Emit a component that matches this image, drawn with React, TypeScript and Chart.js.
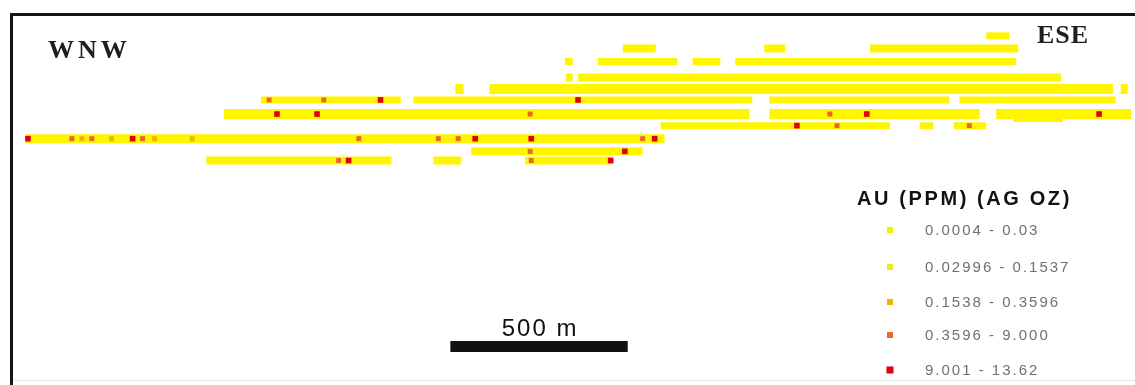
import React, { useEffect, useRef } from "react";
import { Chart, registerables } from "chart.js";

Chart.register(...registerables);

// ---- Section geometry (metres along section, elevation in metres) ----
const xRange = [0, 3155];
const yRange = [3158, 4200];

// Drill-hole traces: one elevation per trace row, with segment starts / ends (m along section)
const traceElev = [4138, 4102, 4065, 4020, 3987, 3956, 3916, 3902, 3883, 3846, 3810, 3784];
const traceStarts = [
  [2747],
  [1722, 2121, 2419],
  [1559, 1652, 1919, 2039],
  [1562, 1596],
  [1250, 1346, 3126],
  [702, 1132, 2135, 2671],
  [598, 2135, 2775],
  [2823],
  [1829, 2559, 2655],
  [37],
  [1295],
  [548, 1188, 1447],
];
const traceEnds = [
  [2812],
  [1815, 2180, 2837],
  [1581, 1876, 1997, 2831],
  [1581, 2958],
  [1273, 3104, 3146],
  [1096, 2087, 2643, 3112],
  [2079, 2728, 3155],
  [2963],
  [2475, 2598, 2747],
  [1840],
  [1778],
  [1070, 1267, 1693],
];
const traceWidth = [7, 8, 7, 8, 10, 7, 10, 6, 7, 9, 8, 8];

// Higher-grade assay samples along the traces
const sampleX = [
  725, 879, 1039, 1596,
  747, 860, 1461, 2306, 2410, 3065,
  2213, 2326, 2699,
  45, 169, 197, 225, 281, 340, 368, 402, 508, 978, 1202, 1258, 1306, 1464, 1778, 1812,
  1461, 1728,
  921, 949, 1464, 1688,
];
const sampleElev = [
  3956, 3956, 3956, 3956,
  3916, 3916, 3916, 3916, 3916, 3916,
  3883, 3883, 3883,
  3846, 3846, 3846, 3846, 3846, 3846, 3846, 3846, 3846, 3846, 3846, 3846, 3846, 3846, 3846, 3846,
  3810, 3810,
  3784, 3784, 3784, 3784,
];
const sampleClass = [
  4, 4, 5, 5,
  5, 5, 4, 4, 5, 5,
  5, 4, 4,
  5, 4, 3, 4, 3, 5, 4, 3, 3, 4, 4, 4, 5, 5, 4, 5,
  4, 5,
  4, 5, 4, 5,
];

// Legend classes
const classLabels = [
  "0.0004 - 0.03",
  "0.02996 - 0.1537",
  "0.1538 - 0.3596",
  "0.3596 - 9.000",
  "9.001 - 13.62",
];
const classColors = ["#f4ee00", "#eeea10", "#f0b400", "#e8682a", "#e00010"];
const legendTitle = "AU (PPM) (AG OZ)";

// Scale bar
const scaleBarStart = 1236;
const scaleBarLength = 500;
const scaleBarLabel = "500 m";

const TRACE_COLOR = "#fff500";

const overlayPlugin = {
  id: "overlay",
  afterDraw(chart: any) {
    const { ctx, chartArea, scales } = chart;
    const W = chart.width;
    const H = chart.height;
    ctx.save();

    // faint bottom line
    ctx.strokeStyle = "#e6e6e6";
    ctx.lineWidth = 1;
    ctx.beginPath();
    ctx.moveTo(chartArea.left, H - 4.5);
    ctx.lineTo(W, H - 4.5);
    ctx.stroke();

    // frame (top + left)
    ctx.strokeStyle = "#141414";
    ctx.lineWidth = 3;
    ctx.beginPath();
    ctx.moveTo(chartArea.left - 0.5, H);
    ctx.lineTo(chartArea.left - 0.5, chartArea.top + 0.5);
    ctx.lineTo(W, chartArea.top + 0.5);
    ctx.stroke();

    // direction labels
    ctx.fillStyle = "#1e1e1e";
    ctx.textBaseline = "alphabetic";
    ctx.textAlign = "left";
    ctx.font = 'bold 26px "Liberation Serif", serif';
    (ctx as any).letterSpacing = "4px";
    ctx.fillText("WNW", 48, 58);
    (ctx as any).letterSpacing = "1px";
    ctx.fillText("ESE", 1037, 43);

    // legend title
    ctx.fillStyle = "#111";
    ctx.font = 'bold 20px "Liberation Sans", Arial, sans-serif';
    (ctx as any).letterSpacing = "2.6px";
    ctx.fillText(legendTitle, 857, 205);

    // legend items
    const rowsY = [230, 267, 302, 335, 370];
    ctx.font = '15px "Liberation Sans", Arial, sans-serif';
    (ctx as any).letterSpacing = "2px";
    classLabels.forEach((lab, i) => {
      const y = rowsY[i];
      const s = i === 4 ? 7 : 6;
      ctx.fillStyle = classColors[i];
      ctx.fillRect(890 - s / 2, y - s / 2, s, s);
      ctx.fillStyle = "#707070";
      ctx.fillText(lab, 925, y + 5);
    });

    // scale bar
    const x0 = scales.x.getPixelForValue(scaleBarStart);
    const x1 = scales.x.getPixelForValue(scaleBarStart + scaleBarLength);
    ctx.fillStyle = "#111";
    ctx.fillRect(x0, 341, x1 - x0, 11);
    ctx.font = '24px "Liberation Sans", Arial, sans-serif';
    (ctx as any).letterSpacing = "2px";
    ctx.textAlign = "center";
    ctx.fillText(scaleBarLabel, (x0 + x1) / 2 + 1, 336);

    ctx.restore();
  },
};

export default function App() {
  const ref = useRef<HTMLCanvasElement | null>(null);

  useEffect(() => {
    document.body.style.margin = "0";
    document.body.style.background = "#ffffff";
    if (!ref.current) return;

    const traceSets = traceElev.map((elev, i) => {
      const pts: any[] = [];
      traceStarts[i].forEach((s, j) => {
        pts.push({ x: s, y: elev });
        pts.push({ x: traceEnds[i][j], y: elev });
        pts.push({ x: traceEnds[i][j], y: null });
      });
      return {
        type: "scatter" as const,
        label: "trace " + (i + 1),
        data: pts,
        showLine: true,
        spanGaps: false,
        borderColor: TRACE_COLOR,
        backgroundColor: TRACE_COLOR,
        borderWidth: traceWidth[i],
        borderCapStyle: "butt",
        pointRadius: 0,
        order: 2,
      };
    });

    const sampleSets = [3, 4, 5].map((c) => {
      const pts: any[] = [];
      sampleX.forEach((x, k) => {
        if (sampleClass[k] === c) pts.push({ x, y: sampleElev[k] });
      });
      return {
        type: "scatter" as const,
        label: classLabels[c - 1],
        data: pts,
        showLine: false,
        pointStyle: "rect",
        pointRadius: c === 5 ? 4 : 3.5,
        pointBackgroundColor: classColors[c - 1],
        pointBorderWidth: 0,
        borderColor: classColors[c - 1],
        order: 0,
      };
    });

    const chart = new Chart(ref.current, {
      type: "scatter",
      data: { datasets: [...sampleSets, ...traceSets] as any },
      options: {
        responsive: false,
        animation: false,
        events: [],
        layout: { padding: { left: 12, top: 14, right: 0, bottom: 0 } },
        plugins: { legend: { display: false }, tooltip: { enabled: false } },
        scales: {
          x: { type: "linear", min: xRange[0], max: xRange[1], display: false },
          y: { type: "linear", min: yRange[0], max: yRange[1], display: false },
        },
      },
      plugins: [overlayPlugin],
    });
    return () => chart.destroy();
  }, []);

  return (
    <div style={{ width: 1135, height: 385, background: "#fff" }}>
      <canvas ref={ref} width={1135} height={385} style={{ display: "block" }} />
    </div>
  );
}
